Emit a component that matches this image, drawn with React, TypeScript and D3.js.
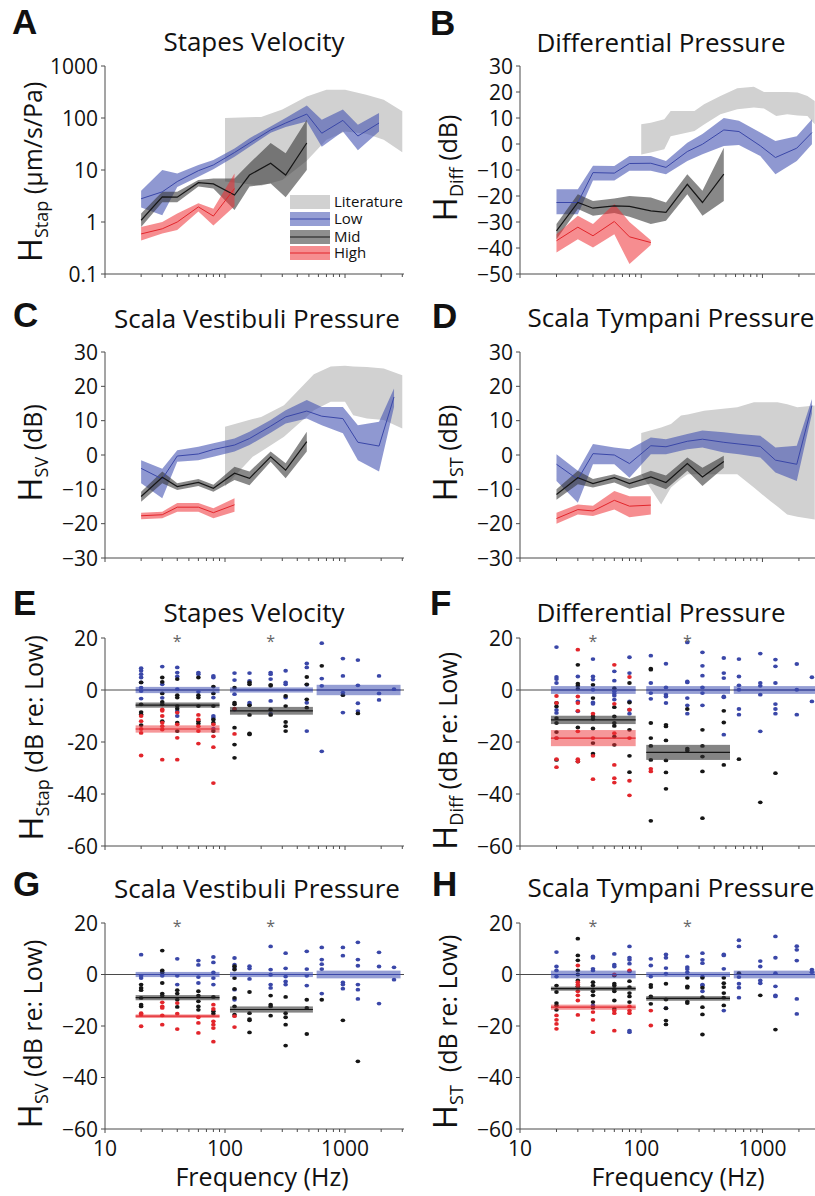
import React from 'react';
import * as d3 from 'd3';

// --- frequencies (Hz) shared by every panel ---
const FREQS = [20, 30, 40, 60, 80, 120, 160, 240, 320, 480, 640, 960, 1280, 1920, 2560];

// --- panel A: stapes velocity (um/s/Pa) ---
const A_LIT_F = [100, 200, 300, 480, 700, 1000, 1500, 2100, 3000];
const A_LIT_HI = [100, 105, 145, 260, 350, 350, 280, 225, 135];
const A_LIT_LO = [6, 5, 6.4, 15, 38, 55, 50, 38, 22];
const A_LOW = [2.8, 3.8, 6, 9.7, 12.5, 21.7, 33, 59, 80, 119, 51, 90, 45, 80];
const A_LOW_HI = [4, 10, 8.6, 12.5, 15.6, 26, 41, 69, 100, 173, 93, 145, 74, 125];
const A_LOW_LO = [1.9, 1.35, 4.7, 7.4, 10.3, 18, 28, 52, 67, 86, 28, 55, 24, 55];
const A_MID = [1.08, 3.05, 3, 5.7, 5.4, 3.3, 8, 13.5, 8, 33];
const A_MID_HI = [1.45, 3.8, 3.8, 6.4, 6.9, 6.9, 13.5, 33, 21, 93];
const A_MID_LO = [0.8, 2.4, 2.4, 4.8, 4.4, 1.7, 4.8, 5.5, 3, 10];
const A_HIGH = [0.59, 0.74, 1.0, 1.95, 1.3, 4.4];
const A_HIGH_HI = [0.8, 1.0, 1.45, 2.3, 1.8, 8.6];
const A_HIGH_LO = [0.44, 0.6, 0.7, 1.6, 0.86, 2];

// --- panel B: differential pressure (dB) ---
const B_LIT_F = [100, 120, 155, 175, 275, 330, 450, 620, 850, 1030, 1300, 1600, 1950, 2350, 2700];
const B_LIT_HI = [7.6, 8.2, 9.5, 12.7, 12.7, 15.3, 18.5, 21.4, 22, 20, 20, 20, 19.8, 18.5, 16.5];
const B_LIT_LO = [-4, -3.3, -2, 3, 5, 7.5, 11.4, 13.4, 14, 13.7, 10.8, 11.4, 11, 10.8, 7.6];
const B_LOW = [-22.5, -22.5, -11, -11.2, -7.5, -7.4, -9, -2.9, -0.1, 5.4, 4.8, -0.7, -5.2, -1.6, 4.4];
const B_LOW_HI = [-17.4, -17.4, -8.4, -8.5, -4.6, -4.6, -6.5, 0.5, 3.8, 10, 8.9, 4.4, 1.2, 3, 9.5];
const B_LOW_LO = [-27, -27, -14, -14, -10.3, -10.3, -11.6, -6.5, -3.9, -0.8, -0.4, -4.6, -11.6, -6.5, -0.1];
const B_MID = [-33.4, -22.5, -24.7, -23.8, -24, -25.7, -26.3, -15.5, -22.5, -11.6];
const B_MID_HI = [-30.8, -19.3, -21.9, -21, -20, -20.6, -22.5, -11.6, -18, -1.4];
const B_MID_LO = [-36.6, -25, -27.6, -26.5, -28, -30.8, -29.5, -19.3, -27.6, -21.9];
const B_HIGH = [-37.2, -32, -35.3, -29.8, -35.7, -37.9];
const B_HIGH_HI = [-34.7, -27.6, -30.8, -23.1, -30, -37];
const B_HIGH_LO = [-41.7, -36.6, -39.8, -34.7, -46.2, -38.8];

// --- panel C: scala vestibuli pressure (dB) ---
const C_LIT_F = [100, 170, 200, 310, 550, 760, 1000, 1170, 1520, 2100, 3000];
const C_LIT_HI = [8.2, 10.5, 11.1, 14.5, 23.5, 25.8, 26, 25.8, 25.6, 25.2, 23.2];
const C_LIT_LO = [-9.2, -0.5, 1, 5.3, 13, 15.5, 15.5, 11.6, 10.6, 10.2, 7.7];
const C_LOW = [-3.9, -7, -0.3, 0.3, 1.6, 2.9, 4.8, 8.4, 11.1, 12.8, 11.3, 10.6, 3.7, 2.6, 16.9];
const C_LOW_HI = [-1.5, -4, 1.4, 2.4, 3.4, 4.8, 6.8, 10.2, 13, 16, 14, 14, 8.7, 9.7, 19.4];
const C_LOW_LO = [-8.2, -12.6, -2, -1.5, -0.5, 1, 2.9, 6.5, 9.2, 10.6, 8.7, 6.3, -1.5, -4.8, 14];
const C_MID = [-12.1, -6.5, -9.2, -8, -9.7, -5.3, -6.8, -0.5, -4.4, 3.9];
const C_MID_HI = [-10.7, -4.8, -8.2, -7, -8.7, -3.4, -4.8, 1, -2.4, 6.8];
const C_MID_LO = [-13.6, -8.2, -10.2, -9, -10.7, -7.3, -8.8, -2, -6.8, 1];
const C_HIGH = [-17.7, -17.4, -15.2, -15.2, -16.8, -14.5];
const C_HIGH_HI = [-16.8, -16.5, -14, -14, -15.5, -12.6];
const C_HIGH_LO = [-18.7, -18.4, -16.5, -16.5, -18.4, -16.5];

// --- panel D: scala tympani pressure (dB) ---
const D_LIT_F = [100, 146, 176, 213, 242, 330, 620, 850, 1160, 1330, 1600, 1940, 2700];
const D_LIT_HI = [6.4, 8, 9, 11.5, 11.8, 12.9, 13.9, 15.4, 15.4, 15.4, 14.8, 13.9, 14.4];
const D_LIT_LO = [-5.6, -14.4, -9.5, -7, -5.6, -5.6, -5.6, -9.5, -13.4, -15, -17.3, -18, -18.8];
const D_LOW = [-2.7, -7.1, 0.4, 0, -2.5, 2.7, 2.4, 4, 4.6, 3.7, 3.2, 2.5, -1.5, -2.7, 14.4];
const D_LOW_HI = [0.2, -4.6, 3.2, 2.2, 1.7, 5.1, 4.6, 6.1, 7.1, 6.6, 6.1, 5.6, 2.2, 2.7, 16.3];
const D_LOW_LO = [-7.6, -13.9, -2.7, -2.7, -6.6, 0.2, 0.2, 1.7, 2.2, 0.7, 0.2, -0.7, -5.1, -7.6, 12];
const D_MID = [-11.5, -6.6, -8.3, -6.6, -8.3, -6.4, -8, -2.5, -6.4, -1.9];
const D_MID_HI = [-10, -4.6, -7, -5.6, -7, -4.6, -6, -0.7, -3.7, -0.2];
const D_MID_LO = [-13, -8.5, -9.5, -8, -9.8, -8.3, -10, -4.6, -9, -3.7];
const D_HIGH = [-18.5, -15.9, -16.3, -13.2, -14.9, -14.6];
const D_HIGH_HI = [-16.8, -14.4, -14.8, -10.5, -12, -12];
const D_HIGH_LO = [-20, -17.3, -17.8, -15.9, -18.1, -17.3];

// --- panels E-H: individual ears, dB re: Low, one list per frequency ---
const E_LOW = [[8.4, 7.4, 6.1, 4.8, 2.9, 0.9, -0.4, -3.3], [9, 2.2, -3], [8.7, 6.7, 5.2, 0.3, -8.1, -10], [6.7, 6.1, -0.7], [5.4, 4.8, -2.9, -10, -10.7, -14.9], [6.5, 3.8, -1.6, -7.5], [6.5, 3.5, -4.9, -5.5], [6.7, 6.1, 4.2, -4.2, -9.1], [7.4, 2.9, 2.2, -2.9], [10.2, 8.7, 2, -4.9, -15.8], [18, 4.4, 1.6, -23.6], [12.1, 5.4, -1, -8.7], [11.5, 1.8, -5.1, -8.1], [5.4, -1.3, -3.8], [0.3]];
const E_MID = [[2.9, -5.5, -8.5, -9.4, -13.5], [4.8, 3.1, -1.3, -4.6, -5.5, -12], [4.2, -2, -2.9, -6.2, -7.2, -12.6, -15.8], [4.8, -2, -2.9, -6.2, -12, -12.9], [1.3, -1.3, -6.2, -11.3, -12.6, -15.8], [0.9, -4.9, -5.5, -14.5, -21, -26.1], [2.9, 2.2, -5.9, -9.6, -16.7, -17.1], [2, 1.6, -7.5, -9.6], [-2.3, -6.2, -12.3, -13.9, -15.8], [5, 2.2, -3.6, -6.8], [9.3], [-2], [-9]];
const E_HIGH = [[-10, -12, -15, -16.5, -25.2], [-7.5, -8, -10, -12.6, -13.9, -15.2, -26.8], [-8.7, -13.2, -18.4, -26.8], [-9.6, -11.3, -13.9, -15.8, -20.6], [-13.2, -17.8, -22, -35.8], [-7.2, -16.9]];

const F_LOW = [[16.5, 5, 4.2, 2.7, -7.7, -8.8, -18.5], [5.2, -4.4, -8.2], [11.9, 5.2, 4, 0.1, -4.8, -5.3], [7.2, 3.6, -0.5, -1.4, -2.2, -3.7], [12.6, 6.5, -4.4, -7.6, -9.1], [13.2, 2.7, -1.2, -3.4], [10.1, 1, -1.8, -2.5, -5], [18.3, 3.3, 2.9, -3.1, -5.9, -9.1], [14.5, 9.3, 5.5, 1, -1.2, -5.9], [12.3, 6.5, 4.6, -2.5, -2.8, -17.2], [11.9, 5.2, 1.8, 0.1, -7.3, -9.5], [14, 2.7, 1.6, -1.8, -15.9], [11.7, 9.1, 2.7, -5.4, -7.3, -9.1], [10, 0.1, -9.5], [4.9, -4.4]];
const F_MID = [[-5, -6.3, -10.8, -12.7, -16.2, -26.9], [9.7, 2.4, 1.6, 0.4, -14.4, -27.5], [2, -3.1, -10.2, -11.2, -14.8, -20.4, -24.5], [0.7, -6.6, -10.2, -12.7, -13.8, -17.9, -21.1], [2.7, -4.8, -15.3, -25.3, -31.6], [8.2, 7.8, -12.7, -18.5, -21.5, -26.9, -50.3], [-13.4, -14, -19.4, -27.1, -31.7, -38], [-7.3, -22.6, -23.3], [-15.3, -21.5, -25.6, -31.3, -49.3], [-8, -12.5, -28.8], [-26.6], [-43.2], [-32]];
const F_HIGH = [[-2.3, -5, -18.5, -26.6, -29.7], [15.5, -2.5, -5, -8, -15.9, -26.6, -27.5], [-9.1, -18.5, -25.3, -34.3], [9.7, -5.3, -16.6, -28.8, -33.9, -35.6], [5, -7.6, -18.5, -34.9, -40.5], [-30.3, -31.3]];

const G_LOW = [[7.7, -0.5, -1.4], [-0.5], [6.1, -0.5, -3.9], [5.4, 3.7, -1, -3.3], [6.8, 4.7, 0.8, -1.4, -3.9], [6.4, 3.8, 2.5, -5.9, -9.8], [3.2, 2.3, -1.7], [10.9, 1.9, -0.1, -3.9, -5.2], [8.3, 2.4, -0.8, -2.7, -3.9], [9, 2.1, -0.5, -4.3], [10.5, 5.8, 4, 2.1, -7.4], [10.5, 7.3, -3.1, -3.9, -5.5], [12.5, 5.8, 3.4, -3.9, -5.9, -9.5], [8.6, 3.1, -11.3], [2.8, -2]];
const G_MID = [[-3.9, -5.2, -6.1, -9.1, -11.7, -12.4], [9.3, 1.6, 0.8, -3.3, -7.4, -8.2], [-6.1, -7.4, -9.8, -12.6], [-6.5, -8.2, -10.4, -12.4, -13.7], [-8.7, -14.3, -15.2], [3.2, 1.9, -1.4, -5.6, -9.1, -12.4, -15.6], [-6.8, -15, -17.3, -17.8, -22.5], [-8.2, -11.7, -12.4, -16], [-8.7, -15, -16.6, -19.5, -27.6], [-9.8, -13, -23.1], [-9.8], [-17.8], [-33.7]];
const G_HIGH = [[-15, -15.6, -20.1], [-10.8, -12.4, -13, -15.9, -19.5], [-11.1, -15.2, -21.2], [-16.6, -18.8, -22.7], [-11.7, -13.4, -18.2, -19.5, -20.8, -26.1], [-16.2, -20.4]];

const H_LOW = [[8.7, 3.1, 1.6, -0.8], [], [7, 6.5, 2.2, 1.6, -12], [8, 3.8, 3.1], [10.9, 6.5, 5.7, 4.2, 1.2, -21.8, -22.4], [6.1, 3.5, -0.8], [7.8, 6.5, 2.5, 0.3, -13.1], [7, 2.9, 2.1, 0.9], [8.3, 5.7, 4.4, -0.8, -3.9, -4.3, -6.5], [7.8, 7.4, 2.2, -14], [13.3, 10.9, -1, -3.6, -5.1, -9], [5.2, 3.1, -2.3, -3.4], [14.8, 6.5, 0.5, -4.6, -8.1, -8.5], [11, 9.6, 5.4, -9.5, -15.3], [1.9, 0.9]];
const H_MID = [[-4.3, -6.8, -11.1, -12, -13.7], [13.9, 7.4, 5.5, 1.6, 0, -2.3, -4.6], [-3, -4.3, -6.5, -8.1, -10.7, -12.9], [-0.4, -3.6, -4.3, -5.6, -6.5, -10.1, -13.3], [-2.6, -4.9, -7.2, -8.5, -10.7], [-4, -4.9, -8.5, -11.4], [-3.6, -9.7, -13.1, -17.9, -19.4], [-1.3, -4.6, -5.1, -10.5, -11.1], [-1.3, -5.1, -8.8, -12.7, -15.5, -23.3], [-1.3, -3.4, -4.9, -7.2, -9, -12], [0.5], [-8.1], [-21.4]];
const H_HIGH = [[-15.9, -17.6, -19.2, -21.1], [3.5, -3, -3.9, -4.9, -6.5, -8.1, -10.1, -15.7], [-14.6, -17.6, -22.4], [0, -14, -15, -21.8], [1.6, -12.4, -14, -15], [-14, -19.8]];

// group means over the three frequency bands [mean, half-width]
const BAR_RANGES = [[18, 90], [110, 540], [580, 2900]];
const E_BARS = { low: [[0, 1.2], [0, 1.0], [0, 2.0]], mid: [[-5.8, 1.0], [-8.0, 1.5]], high: [[-15.0, 1.4]] };
const F_BARS = { low: [[0, 1.5], [0, 1.5], [0, 1.5]], mid: [[-11.5, 1.6], [-24, 2.9]], high: [[-18.5, 3.1]] };
const G_BARS = { low: [[0, 1.0], [0, 1.0], [0, 1.5]], mid: [[-9.0, 1.0], [-13.6, 1.2]], high: [[-16.2, 0.7]] };
const H_BARS = { low: [[0, 1.5], [0, 1.0], [0, 1.5]], mid: [[-5.5, 0.8], [-9.3, 0.9]], high: [[-12.7, 1.0]] };
const STAR_FREQS = [40, 240];

const LEGEND = ['Literature', 'Low', 'Mid', 'High'];

const FONT = '"Open Sans", "Noto Sans", sans-serif';
const AXIS = '#4a4a4a';
const COL = {
  lit: '#d1d1d1',
  low: '#3a47a8', lowFill: 'rgb(62,78,176)',
  mid: '#161616', midFill: 'rgb(50,50,50)',
  high: '#e2252b', highFill: 'rgb(238,48,52)',
};

const LEFT = { x0: 105, w: 299 };
const RIGHT = { x0: 520, w: 302 };
const ROWS = [{ top: 66, bot: 274 }, { top: 352, bot: 558 }, { top: 638, bot: 846 }, { top: 923, bot: 1129 }];

function makeX(col: { x0: number; w: number }) {
  return d3.scaleLog().domain([10, 3100]).range([col.x0, col.x0 + col.w]);
}

type Pt = { f: number; v: number; lo: number; hi: number };
function pts(fs: number[], v: number[], lo: number[], hi: number[]): Pt[] {
  return v.map((d, i) => ({ f: fs[i], v: d, lo: lo[i], hi: hi[i] }));
}

function Frame({ x, y, ticks, fmt, xLabels }: { x: any; y: any; ticks: number[]; fmt: (d: number) => string; xLabels?: boolean }) {
  const [x0, x1] = x.range();
  const [yb, yt] = y.range();
  return (
    <g>
      <line x1={x0} x2={x1} y1={yb} y2={yb} stroke={AXIS} strokeWidth={1} />
      {x.ticks().map((t: number) => (
        <line key={t} x1={x(t)} x2={x(t)} y1={yb} y2={yb + ([10, 100, 1000].includes(t) ? 4 : 3)} stroke={AXIS} strokeWidth={1} />
      ))}
      <line x1={x0} x2={x0} y1={yt} y2={yb} stroke={AXIS} strokeWidth={1} />
      {ticks.map(t => (
        <g key={t}>
          <line x1={x0 - 4} x2={x0} y1={y(t)} y2={y(t)} stroke={AXIS} strokeWidth={1} />
          <text x={x0 - 7} y={y(t)} dy="0.36em" textAnchor="end" fontSize={21} fill="#111">{fmt(t)}</text>
        </g>
      ))}
      {xLabels && [10, 100, 1000].map(t => (
        <text key={t} x={x(t)} y={yb + 27} textAnchor="middle" fontSize={21} fill="#111">{t}</text>
      ))}
    </g>
  );
}

function YLabel({ x, y, sub, rest }: { x: number; y: number; sub: string; rest: string }) {
  return (
    <text transform={`translate(${x},${y}) rotate(-90)`} textAnchor="middle" fill="#111">
      <tspan fontSize={33}>H</tspan>
      <tspan fontSize={18} dy={6}>{sub}</tspan>
      <tspan fontSize={25} dy={-6}>{rest}</tspan>
    </text>
  );
}

function Bands({ x, y, lit, series }: { x: any; y: any; lit: Pt[]; series: { p: Pt[]; line: string; fill: string; op: number; lw: number }[] }) {
  const area = d3.area<Pt>().x(d => x(d.f)).y0(d => y(d.lo)).y1(d => y(d.hi));
  const line = d3.line<Pt>().x(d => x(d.f)).y(d => y(d.v));
  return (
    <g>
      <path d={area(lit) || ''} fill={COL.lit} />
      {series.map((s, i) => (
        <path key={'a' + i} d={area(s.p) || ''} fill={s.fill} fillOpacity={s.op} />
      ))}
      {series.map((s, i) => (
        <path key={'l' + i} d={line(s.p) || ''} fill="none" stroke={s.line} strokeWidth={s.lw} />
      ))}
    </g>
  );
}

function Scatter({ x, y, low, mid, high, bars }: { x: any; y: any; low: number[][]; mid: number[][]; high: number[][]; bars: any }) {
  const [x0, x1] = x.range();
  const barSet = [
    { key: 'low', fill: COL.lowFill, op: 0.55, line: COL.low },
    { key: 'mid', fill: COL.midFill, op: 0.6, line: COL.mid },
    { key: 'high', fill: COL.highFill, op: 0.5, line: COL.high },
  ];
  const dots = (arr: number[][], color: string, k: string) =>
    arr.flatMap((vals, i) => vals.map((v, j) => (
      <ellipse key={k + i + '_' + j} cx={x(FREQS[i])} cy={y(v)} rx={2.3} ry={1.9} fill={color} />
    )));
  return (
    <g>
      <line x1={x0} x2={x1} y1={y(0)} y2={y(0)} stroke={AXIS} strokeWidth={1} />
      {dots(low, COL.low, 'b')}
      {dots(mid, COL.mid, 'k')}
      {dots(high, COL.high, 'r')}
      {barSet.map(b => bars[b.key].map((m: number[], i: number) => {
        const [fa, fb] = BAR_RANGES[i];
        return (
          <g key={b.key + i}>
            <rect x={x(fa)} width={x(fb) - x(fa)} y={y(m[0] + m[1])} height={y(m[0] - m[1]) - y(m[0] + m[1])} fill={b.fill} fillOpacity={b.op} />
            <line x1={x(fa)} x2={x(fb)} y1={y(m[0])} y2={y(m[0])} stroke={b.line} strokeWidth={1.2} />
          </g>
        );
      }))}
      {STAR_FREQS.map(f => (
        <text key={f} x={x(f)} y={y(20) + 9} textAnchor="middle" fontSize={16} fill="#666">*</text>
      ))}
    </g>
  );
}

function Title({ x, y, letter, lx, ly, text }: { x: number; y: number; letter: string; lx: number; ly: number; text: string }) {
  return (
    <g>
      <text x={lx} y={ly} fontFamily='"Liberation Sans", Arial, sans-serif' fontWeight="bold" fontSize={35} fill="#111">{letter}</text>
      <text x={x} y={y} textAnchor="middle" fontSize={26} fill="#111">{text}</text>
    </g>
  );
}

export default function App() {
  const xL = makeX(LEFT);
  const xR = makeX(RIGHT);
  const yA = d3.scaleLog().domain([0.1, 1000]).range([ROWS[0].bot, ROWS[0].top]);
  const yB = d3.scaleLinear().domain([-50, 30]).range([ROWS[0].bot, ROWS[0].top]);
  const yC = d3.scaleLinear().domain([-30, 30]).range([ROWS[1].bot, ROWS[1].top]);
  const yD = d3.scaleLinear().domain([-30, 30]).range([ROWS[1].bot, ROWS[1].top]);
  const yE = d3.scaleLinear().domain([-60, 20]).range([ROWS[2].bot, ROWS[2].top]);
  const yF = d3.scaleLinear().domain([-60, 20]).range([ROWS[2].bot, ROWS[2].top]);
  const yG = d3.scaleLinear().domain([-60, 20]).range([ROWS[3].bot, ROWS[3].top]);
  const yH = d3.scaleLinear().domain([-60, 20]).range([ROWS[3].bot, ROWS[3].top]);

  const minus = (d: number) => (d < 0 ? '\u2212' + Math.abs(d) : String(d));
  const hyphen = (d: number) => String(d);
  const logFmt = (d: number) => String(d);

  const mk = (lowV: number[], lowLo: number[], lowHi: number[], midV: number[], midLo: number[], midHi: number[], hiV: number[], hiLo: number[], hiHi: number[]) => [
    { p: pts(FREQS, lowV, lowLo, lowHi), line: COL.low, fill: COL.lowFill, op: 0.58, lw: 1 },
    { p: pts(FREQS, midV, midLo, midHi), line: COL.mid, fill: COL.midFill, op: 0.58, lw: 1.2 },
    { p: pts(FREQS, hiV, hiLo, hiHi), line: COL.high, fill: COL.highFill, op: 0.55, lw: 1 },
  ];

  const legendY = [202, 219, 237, 253];

  return (
    <div style={{ position: 'absolute', left: 0, top: 0 }}>
      <svg width={815} height={1196} fontFamily={FONT} style={{ display: 'block', background: '#fff' }}>
        {/* A */}
        <Bands x={xL} y={yA} lit={pts(A_LIT_F, A_LIT_F.map(() => 0), A_LIT_LO, A_LIT_HI)}
          series={mk(A_LOW, A_LOW_LO, A_LOW_HI, A_MID, A_MID_LO, A_MID_HI, A_HIGH, A_HIGH_LO, A_HIGH_HI)} />
        <Frame x={xL} y={yA} ticks={[0.1, 1, 10, 100, 1000]} fmt={logFmt} />
        <Title letter="A" lx={12} ly={34} x={254} y={51} text="Stapes Velocity" />
        <YLabel x={42} y={172} sub="Stap" rest=" (µm/s/Pa)" />
        {LEGEND.map((name, i) => (
          <g key={name}>
            <rect x={290} y={legendY[i] - 7} width={40} height={14}
              fill={i === 0 ? COL.lit : i === 1 ? COL.lowFill : i === 2 ? COL.midFill : COL.highFill}
              fillOpacity={i === 0 ? 1 : 0.55} />
            {i > 0 && <line x1={290} x2={330} y1={legendY[i]} y2={legendY[i]} stroke={i === 1 ? COL.low : i === 2 ? COL.mid : COL.high} strokeWidth={1.2} />}
            <text x={334} y={legendY[i]} dy="0.36em" fontSize={15} fill="#111">{name}</text>
          </g>
        ))}

        {/* B */}
        <Bands x={xR} y={yB} lit={pts(B_LIT_F, B_LIT_F.map(() => 0), B_LIT_LO, B_LIT_HI)}
          series={mk(B_LOW, B_LOW_LO, B_LOW_HI, B_MID, B_MID_LO, B_MID_HI, B_HIGH, B_HIGH_LO, B_HIGH_HI)} />
        <Frame x={xR} y={yB} ticks={d3.range(-50, 31, 10)} fmt={minus} />
        <Title letter="B" lx={430} ly={35} x={661} y={52} text="Differential Pressure" />
        <YLabel x={457} y={168} sub="Diff" rest=" (dB)" />

        {/* C */}
        <Bands x={xL} y={yC} lit={pts(C_LIT_F, C_LIT_F.map(() => 0), C_LIT_LO, C_LIT_HI)}
          series={mk(C_LOW, C_LOW_LO, C_LOW_HI, C_MID, C_MID_LO, C_MID_HI, C_HIGH, C_HIGH_LO, C_HIGH_HI)} />
        <Frame x={xL} y={yC} ticks={d3.range(-30, 31, 10)} fmt={minus} />
        <Title letter="C" lx={13} ly={327} x={257} y={328} text="Scala Vestibuli Pressure" />
        <YLabel x={42} y={453} sub="SV" rest=" (dB)" />

        {/* D */}
        <Bands x={xR} y={yD} lit={pts(D_LIT_F, D_LIT_F.map(() => 0), D_LIT_LO, D_LIT_HI)}
          series={mk(D_LOW, D_LOW_LO, D_LOW_HI, D_MID, D_MID_LO, D_MID_HI, D_HIGH, D_HIGH_LO, D_HIGH_HI)} />
        <Frame x={xR} y={yD} ticks={d3.range(-30, 31, 10)} fmt={minus} />
        <Title letter="D" lx={432} ly={328} x={671} y={327} text="Scala Tympani Pressure" />
        <YLabel x={457} y={453} sub="ST" rest=" (dB)" />

        {/* E */}
        <Scatter x={xL} y={yE} low={E_LOW} mid={E_MID} high={E_HIGH} bars={E_BARS} />
        <Frame x={xL} y={yE} ticks={[-60, -40, -20, 0, 20]} fmt={hyphen} />
        <Title letter="E" lx={13} ly={615} x={254} y={622} text="Stapes Velocity" />
        <YLabel x={43} y={738} sub="Stap" rest=" (dB re: Low)" />

        {/* F */}
        <Scatter x={xR} y={yF} low={F_LOW} mid={F_MID} high={F_HIGH} bars={F_BARS} />
        <Frame x={xR} y={yF} ticks={[-60, -40, -20, 0, 20]} fmt={minus} />
        <Title letter="F" lx={430} ly={615} x={661} y={622} text="Differential Pressure" />
        <YLabel x={457} y={751} sub="Diff" rest=" (dB re: Low)" />

        {/* G */}
        <Scatter x={xL} y={yG} low={G_LOW} mid={G_MID} high={G_HIGH} bars={G_BARS} />
        <Frame x={xL} y={yG} ticks={[-60, -40, -20, 0, 20]} fmt={minus} xLabels />
        <Title letter="G" lx={13} ly={896} x={257} y={898} text="Scala Vestibuli Pressure" />
        <YLabel x={42} y={1034} sub="SV" rest=" (dB re: Low)" />
        <text x={262} y={1186} textAnchor="middle" fontSize={25} fill="#111">Frequency (Hz)</text>

        {/* H */}
        <Scatter x={xR} y={yH} low={H_LOW} mid={H_MID} high={H_HIGH} bars={H_BARS} />
        <Frame x={xR} y={yH} ticks={[-60, -40, -20, 0, 20]} fmt={minus} xLabels />
        <Title letter="H" lx={432} ly={896} x={671} y={897} text="Scala Tympani Pressure" />
        <YLabel x={457} y={1032} sub="ST" rest={'\u00a0 (dB re: Low)'} />
        <text x={678} y={1186} textAnchor="middle" fontSize={25} fill="#111">Frequency (Hz)</text>
      </svg>
    </div>
  );
}
